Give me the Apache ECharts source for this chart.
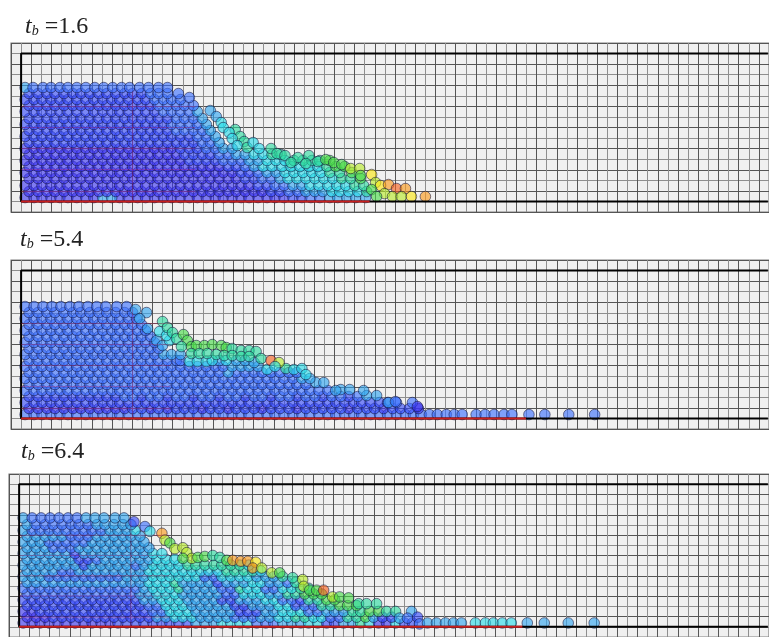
<!DOCTYPE html>
<html><head><meta charset="utf-8">
<style>html,body{margin:0;padding:0;background:#fff;overflow:hidden}#c{width:769px;height:637px;filter:blur(0.5px)}</style>
<script src="https://cdn.jsdelivr.net/npm/echarts@6/dist/echarts.min.js"></script></head>
<body><div id="c"></div>
<script>
const speedColors=['#3a34f2','#3448fa','#3a70ff','#2ea4f0','#28dcea','#2cdca0','#48dc48','#b8ec28','#fbe810','#fb9a18','#f8601c'];
const boxX=[750,0,0,750], boxY=[0,0,148,148];
const labels=['1.6','5.4','6.4'];
const redEnds=[350,507,504];
const seamLevels=[95,74,53,32,10];
const seamEnds=[175,150,150];
const seamColumn=112;
// every entry: [speed class, height, x, x, x ...]
const panelA=[
[0,4,4,13,21,30,39,47,56,65,73,99,108,117,125,134,143,151,160,169,177,186,195,203,212,221,229,238,247,255,264],
[3,4,82,91],[1,4,273,282],[2,4,291,300],[3,4,310,318,327,336,346],
[0,10,8,17,26,34,43,52,60,69,78,86,95,104,112,121,130,138,147,156,164,173,182,190,199,208,216,225,234,242],[1,10,251,260],[2,10,269,278],[3,10,286,295,303],[4,10,312,320,329,338],[5,10,347],
[0,16,4,13,21,30,39,47,56,65,73,82,91,99,108,117,125,134,143,151,160,169,177,186,195,203,212,221,229],[1,16,238,247],[2,16,255,264],[3,16,273,282],[4,16,290,299,308,317,326],[5,16,335,344],
[0,23,8,17,26,34,43,52,60,69,78,86,95,104,112,121,130,138,147,156,164,173,182,190,199,208,216],[1,23,225,234],[2,23,242,251],[3,23,260],[4,23,268,277,286,295,304,313],[5,23,322,331],[6,23,341],
[0,29,4,13,21,30,39,47,56,65,73,82,91,99,108,117,125,134,143,151,160,169,177,186,195,203,212],[1,29,221,229],[2,29,238],[3,29,247,256],[4,29,265,274,283,292,301],[5,29,310,320],[6,29,332],
[0,35,8,17,26,34,43,52,60,69,78,86,95,104,112,121,130,138,147,156,164,173,182,190,199],[1,35,208,216],[2,35,225],[3,35,234],[4,35,243,252,262,271,280,289,298],[5,35,307],[6,35,316,325],
[0,41,4,13,21,30,39,47,56,65,73,82,91,99,108,117,125,134,143,151,160],[1,41,169,177,186,195],[2,41,203,212,221],[3,41,229,238],[4,41,247,256,265],[5,41,274,283,292,300],[6,41,310],
[0,47,8,17,26,34,43,52,60,69,78,86,95,104,112,121,130,138,147,156],[1,47,164,173,182,190],[2,47,199,208],[3,47,216,225],[4,47,234,243],[5,47,252,261],
[0,53,4,13,21,30,39,47,56,65,73,82,91,99,108,117,125,134,143,151],[1,53,160,169,177],[2,53,186,195],[3,53,203,212],
[1,59,8,17,26,34,43,52,60,69,78,86,95,104,112,121,130,138,147,156,164,173],[2,59,182,190],[3,59,199],
[1,65,4,13,21,30,39,47,56,65,73,82,91,99,108,117,125,134,143,151,160,169],[2,65,177,186],[3,65,195],
[1,71,8,17,26,34,43,52,60,69,78,86,95,104,112,121,130,138,147],[2,71,156,164,173,182],[3,71,190],
[1,77,4,13,21,30,39,47,56,65,73,82,91,99,108,117,125,134,143],[2,77,151,160,169,177],[3,77,186],
[1,83,8,17,26,34,43,52,60,69,78,86,95,104,112,121,130,138,147],[2,83,156,164,173],[3,83,182],
[1,90,4,13,21,30,39,47,56,65,73,82,91,99,108,117,125,134],[2,90,143,151,160,169],[3,90,177],
[1,96,8,17,26,34,43,52,60,69,78,86,95,104,112,121,130],[2,96,138,147,156,164,173],
[1,102,4,13,21,30,39,47,56,65,73,82,91,99,108,117,125],[2,102,134,143,151,160],
[1,108,8,17,26,34,43,52,60,69,78,86,95,104,112,121],[2,108,130,138,147,158],[2,104,169],
[3,114,4],[2,114,12,22,30,39,47,56,65,74,83,92,101,109,119,128,138,147],
[3,91,190],[3,85,196],[4,79,201],[4,74,203],[5,72,215],[5,65,220],[4,69,209],[4,63,212],[5,60,224],[4,56,217],[5,54,227],[4,59,233],[4,53,239],[5,53,251],[5,48,257],[5,46,265],[5,44,278],[5,46,289],[5,39,271],[5,38,286],
[5,40,298],[6,42,306],[6,39,314],[6,37,322],[7,33,331],[7,33,340],[8,27,352],[7,19,356],[6,26,341],[8,16,361],[9,17,369],[10,13,377],[9,13,386],[6,12,352],[7,8,365],[6,5,357],[7,5,373],[7,5,382],[8,5,392],[9,5,406]
];
const panelB=[
[2,4,4,13,21,30,39,47,56,65,73,82,91,99,108,117,125,134,143,151,160,169,177,186,195,203,212,221,229,238,247,255,264,273,282,290,299,308,316,325,334,342,351,360,368,377,386,394,402,410,418,427,435,443,457,466,475,485,493,510,526,550,576],
[0,10,8,17,26,34,43,52,60,69,78,86,95,104,130,147,182,208,242,277,329,364,399],[1,10,112,121,138,156,164,173,190,199,216,225,234,251,260,269,286,295,303,312,321,338,347,355,373,381,390],
[1,16,4,13,21,30,39,47,56,65,73,82,91,99,108,117,125,134,143,151,160,169,177,186,195,203,212,221,229,238,247,255,264,273,282,290,299,308,316,325,334,342,351,360,368],[2,16,377,393],
[1,22,8,17,26,34,43,52,60,69,78,86,95,121,147,173,199,225,251,277,303,329],[2,22,104,112,130,138,156,164,182,190,208,216,234,242,260,269,286,295,312,321,338],[3,23,347,357],
[2,28,4,13,21,30,39,47,56,65,73,82,91,99,108,117,125,134,143,151,160,169,177,186,195,203,212,221,229,238,247,255,264,273,282,290,299,308],[3,29,321,330],[3,28,316],
[2,34,8,17,26,34,43,52,60,69,78,86,95,104,112,121,130,138,147,156,164,173,182,190,199,208,216,225,234,242,251,260,269,277,286],[3,36,296,304],
[2,40,4,13,21,30,39,47,56,65,73,82,91,99,108,117,125,134,143,151,160,169,177,186,195,203,212,221,229,238,247,255,264,273],[3,40,282,290],
[2,46,8,17,26,34,43,52,60,69,78,86,95,104,112,121,130,138,147,156,164,173,182,190,199,216,225,234,242,251,260,269,277],[3,46,208],
[2,52,4,13,21,30,39,47,56,65,73,82,91,99,108,117,125,134,143,151,160,169,177,186,195,203],[3,52,212,221,229,238],
[2,58,8,17,26,34,43,52,60,69,78,86,95,104,112,121,130,138,147,156,160],[3,58,199,216,225],[4,57,169,177,186],[4,58,192,206],[3,56,234],
[2,64,4,13,21,30,39,47,56,65,73,82,91,99,108,117,125,134],[3,64,143,151,160],
[2,70,8,17,26,34,43,52,60,69,78,86,95,104,112,121,130,138],
[2,76,4,13,21,30,39,47,56,65,73,82,91,99,108,117,125,134],
[2,82,8,17,26,34,43,52,60,69,78,86,95,104,112,121,130],
[2,88,4,13,21,30,39,47,56,65,73,82,91,99,108,117,125],
[2,94,8,17,26,34,43,52,60,69,78,86,95,104,112,121],
[2,100,4,13,21,30,39,47,56,65,73,82,91,99,108,116],
[2,106,8,17,26,34,43,52,60,69,78,86,95,104,112],
[2,112,4,13,22,31,40,49,58,67,76,85,96,106],
[3,109,115],[3,106,126],[3,100,119],[3,90,127],[3,78,136],[3,73,142],[4,78,149],[4,87,139],[4,83,146],
[5,97,142],[5,91,147],[5,86,152],[5,80,156],[6,84,163],[6,78,167],[5,72,161],[6,72,171],[6,73,176],[6,73,184],[6,74,192],[6,73,201],[6,71,206],[5,70,212],[5,68,221],[5,68,229],[5,67,236],[5,60,241],
[5,65,171],[5,65,179],[5,65,187],[5,64,196],[5,63,204],[5,63,212],[5,62,221],[5,62,229],
[4,49,247],[5,50,266],[4,49,274],[4,50,282],[4,44,286],[10,58,251],[7,56,259],[4,52,255],
[3,28,344],[3,16,369],[2,17,376],[0,12,398]
];
const panelC=[
[0,4,4,13,21,30,39,47,56,65,73,82,91],[1,4,99,108,117,125,134,143,151,160,169],[3,4,177,186,195],[4,4,203,212,221,229],[2,4,238,247,255],[3,4,264,273,282],[4,4,290,299],[1,4,308,316],[3,4,325,334],[5,4,342],[4,4,351],[0,4,360,368],[4,4,377],[1,4,386,394],
[0,10,8,17,26],[1,10,34,43,52,60,69,78,86,95,104,112,121,130],[3,10,138,147],[4,10,156,164,173],[3,10,182,190,199,208],[2,10,216,225,234],[3,10,242,251],[4,10,260,269],[5,10,277,286],[4,10,295,303],[2,10,312,321],[5,10,329,338],[6,10,347],[3,10,355],[1,10,364,373],
[0,16,4,13],[1,16,21,30,39,47,56,65,73,82,91,99,108,117,125],[2,16,134,143],[4,16,151,160,169],[3,16,177,186,195,203,212],[1,16,221,229,238],[3,16,247,255],[4,16,264,273,282],[2,16,290,299],[3,16,308,316,325],[5,16,334,342],[6,16,351,360],
[1,22,8,17,26,34,43,52,60,69,78,86,95,104,112,121],[2,22,130,138],[4,22,147,156,164],[3,22,173,182,190,199,208],[1,22,216,225],[3,22,234,242,251],[4,22,260,269],[1,22,277],[2,22,286,295],[5,22,303,312],[6,22,321,329,338],
[1,28,4,13,21,30,39,47,56,65,73,82,91,99,108,117],[3,28,125,134],[4,28,143,151,160],[3,28,169,177,186,195],[1,28,203,212],[3,28,221,229,238],[4,28,247,255],[2,28,264,273],[1,28,282],[5,28,290,299],[6,28,308,316],
[2,34,8,17,26,34,43,52,60,69,78,86,95,104,112],[3,34,121,130],[4,34,138,147,156],[3,34,164,173,182,190,199],[2,34,208,216],[4,34,225,234,242],[3,34,251,260],[5,34,269,277],[6,34,286,295,303],
[2,40,4,13,21,30,39,47,56,65,73,82,91,99,108,117],[3,40,125],[4,40,134,143,151],[5,40,160],[3,40,169,177,186,195],[2,40,203,212],[5,40,221],[4,40,229,238],[2,40,247,255],[4,40,264,273],[5,40,282,290],
[3,46,8,17,26,34,43,52,60,69,78,86,95,104,112,121],[4,46,130,138,147],[5,46,156],[3,46,164,173,182,190],[1,46,199],[3,46,208,216,225],[4,46,234,242],[3,46,251,260],[2,46,269],[5,46,277],
[3,52,4,13,21],[2,52,30,39,47,56,65,73,82,91,99],[3,52,108,117,125],[4,52,134,143,151,160,169,177],[2,52,186,195],[4,52,203,212,221,229],[3,52,238,247,255],[5,52,264],
[3,58,8,17,26,34],[2,58,43,52],[3,58,60,69,78,86,95,104,112,121],[4,58,130,138,147,156,164,173],[4,58,182,190,199],[5,58,208,216,225,234],[4,58,242],
[3,64,4,13,21,30,39,47,56],[1,64,65],[3,64,73,82,91,99,108],[2,64,117],[3,64,125],[4,64,134,143,151,160],[5,64,169,177,186,195,203,212,221],[4,64,230],
[3,70,8,17,26,34,43,52],[1,70,60,69],[2,70,78],[3,70,86,95,104,112,121,130],[4,70,138,147,156],
[3,76,4,13,21,30,39,47],[1,76,56],[3,76,65,73,82,91,99,108,117,125],[4,76,134,143],
[3,82,8,17,26],[2,82,34,43,52],[3,82,60,69,78,86,95,104,112,121,130],
[3,88,4,13,21],[2,88,30,39,47,56,65],[3,88,73,82,91,99,108,117,125],
[3,94,8,17,26,34,43],[2,94,52,60,69],[3,94,78,86,95,104,112,121],
[3,100,4],[2,100,13,21,30,39,47,56,65,73,82],[3,100,91,99,108],[4,100,116],
[3,106,8],[2,106,17,26,34,43,52,60,69],[3,106,78,86,95,104,112],
[3,113,4],[2,113,13,22,31,40,49,58],[3,113,67,76,85,96,105],
[1,109,115],[2,104,126],[4,99,131],[9,97,143],[7,90,146],[6,87,151],[7,81,156],[7,82,164],[7,77,168],[7,71,173],[6,71,164],[6,72,179],[6,73,186],[5,74,194],[5,72,201],[6,69,208],[9,69,214],[9,68,222],[9,68,229],[8,67,237],[9,61,234],[7,61,243],[7,56,253],[6,56,261],[5,51,274],
[7,49,284],[7,42,285],[6,38,291],[6,38,298],[10,38,305],[7,31,314],[6,31,321],[6,30,330],[5,24,340],[5,24,348],[5,24,358],[5,16,368],[5,16,377],[3,16,393],[1,10,399],[3,9,381],[2,9,389],[2,3,401],
[3,4,409,418,427,435,443],[4,4,457,467,475,484,493],[3,4,509,526,550,576]
];
const panels=[
 {rows:panelA,left:11,top:43,cap:[20,10]},
 {rows:panelB,left:11,top:260,cap:[15,223]},
 {rows:panelC,left:9,top:474,cap:[16,435]}
];
const toPoints=rows=>rows.flatMap(r=>r.slice(2).map(x=>[x,r[1],r[0]]));
const font='"Liberation Serif","Times New Roman",serif';
const seamPath=i=>seamLevels.flatMap(y=>[[0,y],[seamEnds[i],y],[null,null]]).concat([[seamColumn,0],[seamColumn,110]]);
const option={animation:false,backgroundColor:'#fff',
 title:panels.map((p,i)=>({left:p.cap[0],top:p.cap[1],text:'{t|t}{b|b}{n| ='+labels[i]+'}',
  textStyle:{fontWeight:'normal',rich:{t:{fontFamily:font,fontStyle:'italic',fontWeight:'normal',fontSize:24,color:'#222'},b:{fontFamily:font,fontStyle:'italic',fontWeight:'normal',fontSize:14,color:'#222',padding:[9,0,0,0]},n:{fontFamily:font,fontWeight:'normal',fontSize:24,color:'#222'}}}})),
 grid:panels.map(p=>({left:p.left,top:p.top,width:761.25,height:169.12,show:true,backgroundColor:'#f0f0f0',borderColor:'#808080',borderWidth:1.2})),
 xAxis:panels.map((p,i)=>({gridIndex:i,type:'value',min:-10.15,max:751.1,interval:10.15,axisLabel:{show:false},axisLine:{show:false},axisTick:{show:false},splitLine:{show:true,lineStyle:{color:['#555','#8e8e8e'],width:1}}})),
 yAxis:panels.map((p,i)=>({gridIndex:i,type:'value',min:-10.57,max:158.55,interval:10.57,axisLabel:{show:false},axisLine:{show:false},axisTick:{show:false},splitLine:{show:true,lineStyle:{color:['#555','#8e8e8e'],width:1}}})),
 series:panels.flatMap((p,i)=>[
  {type:'line',xAxisIndex:i,yAxisIndex:i,data:boxX.map((x,k)=>[x,boxY[k]]),symbol:'none',silent:true,lineStyle:{color:'#000',width:2}},
  {type:'line',xAxisIndex:i,yAxisIndex:i,data:[[0,0],[redEnds[i],0]],symbol:'none',silent:true,lineStyle:{color:'#c81e1e',width:2}},
  {type:'scatter',xAxisIndex:i,yAxisIndex:i,data:toPoints(p.rows),symbol:'circle',symbolSize:10.6,silent:true,
   itemStyle:{color:d=>speedColors[d.value[2]],opacity:0.62,borderColor:'#12123a',borderWidth:0.9}},
  {type:'line',xAxisIndex:i,yAxisIndex:i,data:seamPath(i),symbol:'none',silent:true,connectNulls:false,lineStyle:{color:'#d02060',width:1,opacity:0.3}}
 ])};
echarts.init(document.getElementById('c'),null,{renderer:'canvas'}).setOption(option);
</script></body></html>
